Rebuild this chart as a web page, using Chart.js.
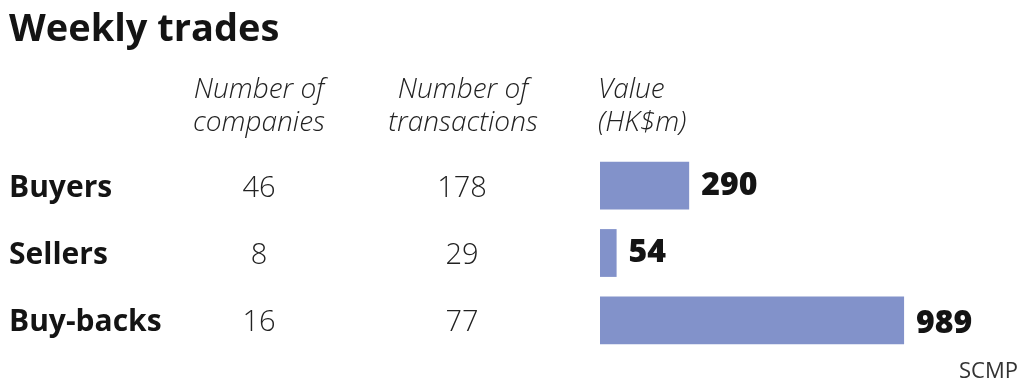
<!DOCTYPE html>
<html>
<head>
<meta charset="utf-8">
<script src="https://cdn.jsdelivr.net/npm/chart.js@4"></script>
<style>
html,body{margin:0;padding:0;background:#fff;}
#wrap{width:1024px;height:387px;position:relative;}
</style>
</head>
<body>
<div id="wrap"><canvas id="c" width="1024" height="387"></canvas></div>
<script>
const title = "Weekly trades";
const categories = ["Buyers", "Sellers", "Buy-backs"];
const companies = [46, 8, 16];
const transactions = [178, 29, 77];
const values = [290, 54, 989];
const headerCompanies = ["Number of", "companies"];
const headerTransactions = ["Number of", "transactions"];
const headerValue = ["Value", "(HK$m)"];
const source = "SCMP";

const FONT = '"Open Sans", "DejaVu Sans", sans-serif';
const INK = '#141414';

const tablePlugin = {
  id: 'tableText',
  afterDraw(chart) {
    const ctx = chart.ctx;
    const ys = chart.scales.y, xs = chart.scales.x;
    ctx.save();
    ctx.fillStyle = INK;
    ctx.textBaseline = 'alphabetic';
    // title
    ctx.font = 'bold 38px ' + FONT;
    ctx.textAlign = 'left';
    ctx.fillText(title, 9, 41);
    // headers
    ctx.font = 'italic 300 28px ' + FONT;
    ctx.fillStyle = '#222';
    ctx.textAlign = 'center';
    ctx.fillText(headerCompanies[0], 259, 98);
    ctx.fillText(headerCompanies[1], 259, 131);
    ctx.fillText(headerTransactions[0], 463, 98);
    ctx.fillText(headerTransactions[1], 463, 131);
    ctx.textAlign = 'left';
    ctx.fillText(headerValue[0], 598, 98);
    ctx.fillText(headerValue[1], 598, 131);
    // rows
    categories.forEach((cat, i) => {
      const cy = ys.getPixelForValue(i);
      const base = cy + 11;
      ctx.fillStyle = INK;
      ctx.font = 'bold 30px ' + FONT;
      ctx.textAlign = 'left';
      ctx.fillText(cat, 9, base);
      ctx.font = '300 29px ' + FONT;
      ctx.fillStyle = '#222';
      ctx.textAlign = 'center';
      ctx.fillText(String(companies[i]), 259, base);
      ctx.fillText(String(transactions[i]), 462, base);
      ctx.fillStyle = INK;
      ctx.font = '800 32px ' + FONT;
      ctx.textAlign = 'left';
      const xEnd = xs.getPixelForValue(values[i]);
      ctx.fillText(String(values[i]), xEnd + 12, cy + (i === 2 ? 12.5 : 9));
    });
    // source
    ctx.font = '22px ' + FONT;
    ctx.fillStyle = '#333';
    ctx.textAlign = 'right';
    ctx.fillText(source, 1018, 378);
    ctx.restore();
  }
};

new Chart(document.getElementById('c'), {
  type: 'bar',
  data: {
    labels: categories,
    datasets: [{
      data: values,
      backgroundColor: '#8292ca',
      borderWidth: 0,
      barPercentage: 0.71,
      categoryPercentage: 1.0
    }]
  },
  options: {
    indexAxis: 'y',
    responsive: false,
    animation: false,
    devicePixelRatio: 1,
    layout: { padding: { left: 600, right: 16, top: 152, bottom: 33 } },
    plugins: { legend: { display: false }, tooltip: { enabled: false }, title: { display: false } },
    scales: {
      x: { display: false, min: 0, max: 1327 },
      y: { display: false, offset: true }
    }
  },
  plugins: [tablePlugin]
});
</script>
</body>
</html>
